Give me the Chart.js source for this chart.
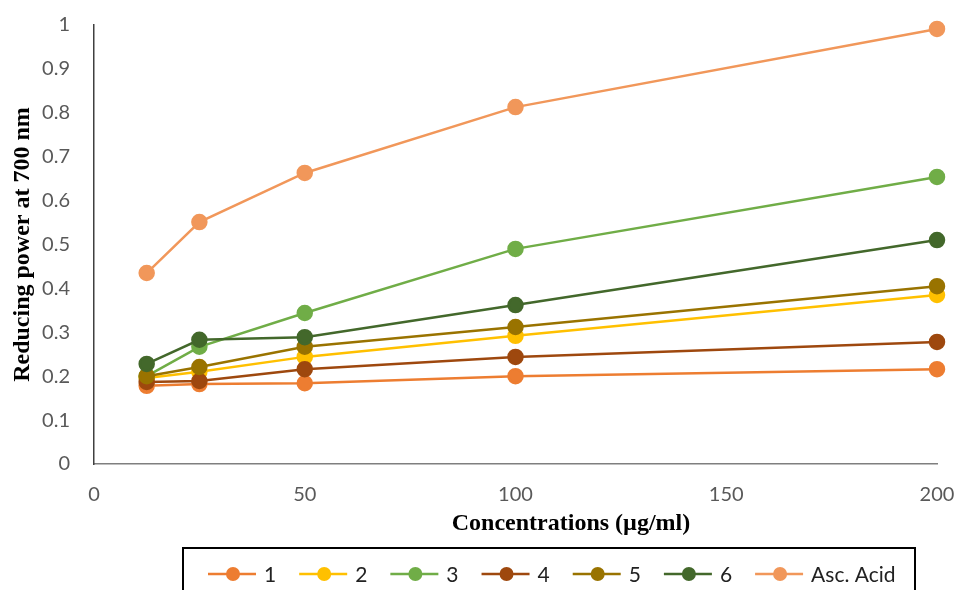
<!DOCTYPE html>
<html>
<head>
<meta charset="utf-8">
<script src="https://cdn.jsdelivr.net/npm/chart.js@4.4.1/dist/chart.umd.min.js"></script>
<style>
html,body{margin:0;padding:0;background:#fff;}
#wrap{width:957px;height:590px;position:relative;}
</style>
</head>
<body>
<div id="wrap"><canvas id="c" width="957" height="590"></canvas></div>
<script>
const concentrations = [12.5, 25, 50, 100, 200];
const seriesNames = ['1', '2', '3', '4', '5', '6', 'Asc. Acid'];
const s1 = [0.178, 0.182, 0.184, 0.200, 0.216];
const s2 = [0.196, 0.210, 0.244, 0.292, 0.385];
const s3 = [0.200, 0.267, 0.344, 0.490, 0.654];
const s4 = [0.187, 0.189, 0.216, 0.244, 0.278];
const s5 = [0.200, 0.221, 0.267, 0.312, 0.405];
const s6 = [0.228, 0.283, 0.289, 0.362, 0.510];
const ascAcid = [0.435, 0.551, 0.663, 0.813, 0.991];
const yTicks = [0, 0.1, 0.2, 0.3, 0.4, 0.5, 0.6, 0.7, 0.8, 0.9, 1];
const xTicks = [0, 50, 100, 150, 200];
const xTitle = 'Concentrations (µg/ml)';
const yTitle = 'Reducing power at 700 nm';

const colors = ['#ED7D31', '#FFC000', '#70AD47', '#9E480E', '#997300', '#43682B', '#F1975A'];
const allSeries = [s1, s2, s3, s4, s5, s6, ascAcid];

const datasets = allSeries.map((vals, i) => ({
  label: seriesNames[i],
  data: concentrations.map((x, j) => ({x: x, y: vals[j]})),
  borderColor: colors[i],
  backgroundColor: colors[i],
  pointBackgroundColor: colors[i],
  pointBorderColor: colors[i],
  borderWidth: 2.5,
  pointRadius: 7,
  pointHoverRadius: 7,
  tension: 0,
  clip: false,
  order: -i
}));

const extrasPlugin = {
  id: 'extras',
  afterDraw(chart) {
    const ctx = chart.ctx;
    ctx.save();
    // x-axis title
    ctx.font = 'bold 24px "Liberation Serif", serif';
    ctx.fillStyle = '#000';
    ctx.textAlign = 'center';
    ctx.textBaseline = 'middle';
    ctx.fillText(xTitle, 571, 524);
    // legend box
    const top = 548, boxLeft = 183, boxRight = 915;
    ctx.strokeStyle = '#000';
    ctx.lineWidth = 2;
    ctx.beginPath();
    ctx.moveTo(boxLeft, 592);
    ctx.lineTo(boxLeft, top);
    ctx.lineTo(boxRight, top);
    ctx.lineTo(boxRight, 592);
    ctx.stroke();
    ctx.font = '21px Lato, sans-serif';
    ctx.textAlign = 'left';
    let x = 208;
    const y = 574;
    chart.data.datasets.forEach(ds => {
      ctx.strokeStyle = ds.borderColor;
      ctx.lineWidth = 2.5;
      ctx.beginPath();
      ctx.moveTo(x, y);
      ctx.lineTo(x + 48, y);
      ctx.stroke();
      ctx.fillStyle = ds.borderColor;
      ctx.beginPath();
      ctx.arc(x + 25, y, 7, 0, Math.PI * 2);
      ctx.fill();
      ctx.fillStyle = '#222';
      ctx.fillText(ds.label, x + 56, y + 1);
      x += 56 + ctx.measureText(ds.label).width + 23;
    });
    ctx.restore();
  }
};

new Chart(document.getElementById('c'), {
  type: 'line',
  data: { datasets },
  options: {
    responsive: false,
    animation: false,
    layout: { padding: { left: 8, right: 20, top: 25, bottom: 42 } },
    plugins: { legend: { display: false }, tooltip: { enabled: false } },
    scales: {
      x: {
        type: 'linear',
        min: 0, max: 200,
        afterBuildTicks: s => { s.ticks = xTicks.map(v => ({value: v})); },
        afterFit: s => { s.height = 84; s.paddingLeft = 0; s.paddingRight = 0; },
        grid: { display: false, drawTicks: false, tickLength: 0 },
        border: { display: true, color: '#7f7f7f', width: 1.5 },
        ticks: { color: '#595959', font: { size: 20, family: 'Lato, sans-serif' }, padding: 19 },
        title: { display: false, text: xTitle }
      },
      y: {
        min: 0, max: 1,
        afterBuildTicks: s => { s.ticks = yTicks.map(v => ({value: v})); },
        afterFit: s => { s.width = 86; s.paddingTop = 0; s.paddingBottom = 0; },
        grid: { display: false, drawTicks: false, tickLength: 0 },
        border: { display: true, color: '#404040', width: 1.5 },
        ticks: { color: '#595959', font: { size: 20, family: 'Lato, sans-serif' }, padding: 24,
          callback: v => String(Math.round(v * 10) / 10) },
        title: { display: true, text: yTitle, color: '#000',
          font: { size: 24, weight: 'bold', family: '"Liberation Serif", serif' }, padding: 0 }
      }
    }
  },
  plugins: [extrasPlugin]
});
</script>
</body>
</html>
